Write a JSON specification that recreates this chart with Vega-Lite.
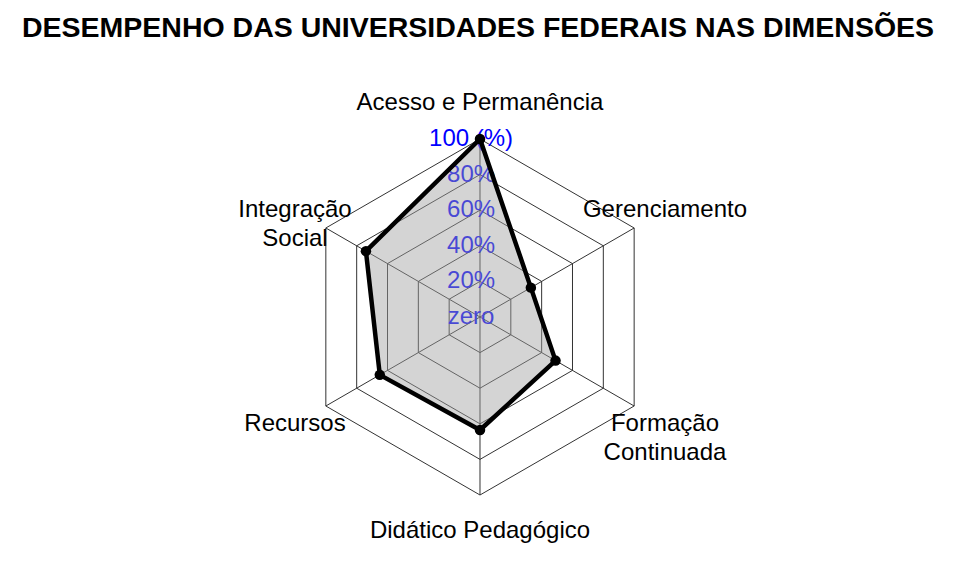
{
  "$schema": "https://vega.github.io/schema/vega-lite/v6.json",
  "width": 956,
  "height": 508,
  "autosize": "none",
  "padding": {"left": 0, "top": 60, "right": 0, "bottom": 0},
  "background": "white",
  "config": {"view": {"stroke": null}, "font": "Liberation Sans"},
  "title": {
    "text": "DESEMPENHO DAS UNIVERSIDADES FEDERAIS NAS DIMENSÕES",
    "font": "Liberation Sans",
    "fontSize": 28.5,
    "fontWeight": "bold",
    "color": "black",
    "anchor": "middle",
    "baseline": "alphabetic",
    "offset": 25,
    "dy": 30
  },
  "datasets": {
    "dims": [
      {"dim": "Acesso e Permanência", "rotulo": "Acesso e Permanência", "idx": 0, "valor": 100},
      {"dim": "Gerenciamento", "rotulo": "Gerenciamento", "idx": 1, "valor": 33},
      {"dim": "Formação Continuada", "rotulo": "Formação\nContinuada", "idx": 2, "valor": 49},
      {"dim": "Didático Pedagógico", "rotulo": "Didático Pedagógico", "idx": 3, "valor": 63.5},
      {"dim": "Recursos", "rotulo": "Recursos", "idx": 4, "valor": 65},
      {"dim": "Integração Social", "rotulo": "Integração\nSocial", "idx": 5, "valor": 74}
    ],
    "grade": [
      {"nivel": 20, "idx": [0, 1, 2, 3, 4, 5]},
      {"nivel": 40, "idx": [0, 1, 2, 3, 4, 5]},
      {"nivel": 60, "idx": [0, 1, 2, 3, 4, 5]},
      {"nivel": 80, "idx": [0, 1, 2, 3, 4, 5]},
      {"nivel": 100, "idx": [0, 1, 2, 3, 4, 5]}
    ],
    "niveis": [
      {"rot": "zero", "v": 0},
      {"rot": "20%", "v": 20},
      {"rot": "40%", "v": 40},
      {"rot": "60%", "v": 60},
      {"rot": "80%", "v": 80},
      {"rot": "100 (%)", "v": 100}
    ]
  },
  "encoding": {
    "x": {"field": "px", "type": "quantitative", "scale": {"domain": [-269.66, 267.42], "nice": false, "zero": false}, "axis": null},
    "y": {"field": "py", "type": "quantitative", "scale": {"domain": [-141.01, 144.38], "nice": false, "zero": false}, "axis": null}
  },
  "layer": [
    {
      "data": {"name": "grade"},
      "transform": [
        {"flatten": ["idx"]},
        {"calculate": "PI/2 - datum.idx*PI/3", "as": "th"},
        {"calculate": "datum.nivel*cos(datum.th)", "as": "px"},
        {"calculate": "datum.nivel*sin(datum.th)", "as": "py"}
      ],
      "mark": {"type": "line", "interpolate": "linear-closed", "stroke": "#333333", "strokeWidth": 1},
      "encoding": {
        "detail": {"field": "nivel", "type": "nominal"},
        "order": {"field": "idx", "type": "quantitative"}
      }
    },
    {
      "data": {"name": "dims"},
      "transform": [
        {"calculate": "PI/2 - datum.idx*PI/3", "as": "th"},
        {"calculate": "100*cos(datum.th)", "as": "px"},
        {"calculate": "100*sin(datum.th)", "as": "py"}
      ],
      "mark": {"type": "rule", "stroke": "#333333", "strokeWidth": 1},
      "encoding": {
        "x2": {"datum": 0},
        "y2": {"datum": 0}
      }
    },
    {
      "data": {"name": "niveis"},
      "transform": [
        {"calculate": "-5", "as": "px"},
        {"calculate": "datum.v", "as": "py"}
      ],
      "mark": {"type": "text", "fill": "#0000ff", "fontSize": 24, "align": "center", "baseline": "middle"},
      "encoding": {
        "text": {"field": "rot", "type": "nominal"}
      }
    },
    {
      "data": {"name": "dims"},
      "transform": [
        {"calculate": "PI/2 - datum.idx*PI/3", "as": "th"},
        {"calculate": "120*cos(datum.th)", "as": "px"},
        {"calculate": "120*sin(datum.th)", "as": "py"}
      ],
      "mark": {"type": "text", "color": "black", "fontSize": 24, "align": "center", "baseline": "middle", "lineBreak": "\n", "lineHeight": 29},
      "encoding": {
        "text": {"field": "rotulo", "type": "nominal"}
      }
    },
    {
      "data": {"name": "dims"},
      "transform": [
        {"calculate": "PI/2 - datum.idx*PI/3", "as": "th"},
        {"calculate": "datum.valor*cos(datum.th)", "as": "px"},
        {"calculate": "datum.valor*sin(datum.th)", "as": "py"}
      ],
      "mark": {"type": "line", "interpolate": "linear-closed", "fill": "#a0a0a0", "fillOpacity": 0.45, "stroke": "black", "strokeWidth": 4.5, "strokeJoin": "round"},
      "encoding": {
        "order": {"field": "idx", "type": "quantitative"}
      }
    },
    {
      "data": {"name": "dims"},
      "transform": [
        {"calculate": "PI/2 - datum.idx*PI/3", "as": "th"},
        {"calculate": "datum.valor*cos(datum.th)", "as": "px"},
        {"calculate": "datum.valor*sin(datum.th)", "as": "py"}
      ],
      "mark": {"type": "point", "filled": true, "color": "black", "size": 110, "opacity": 1},
      "encoding": {}
    }
  ]
}
